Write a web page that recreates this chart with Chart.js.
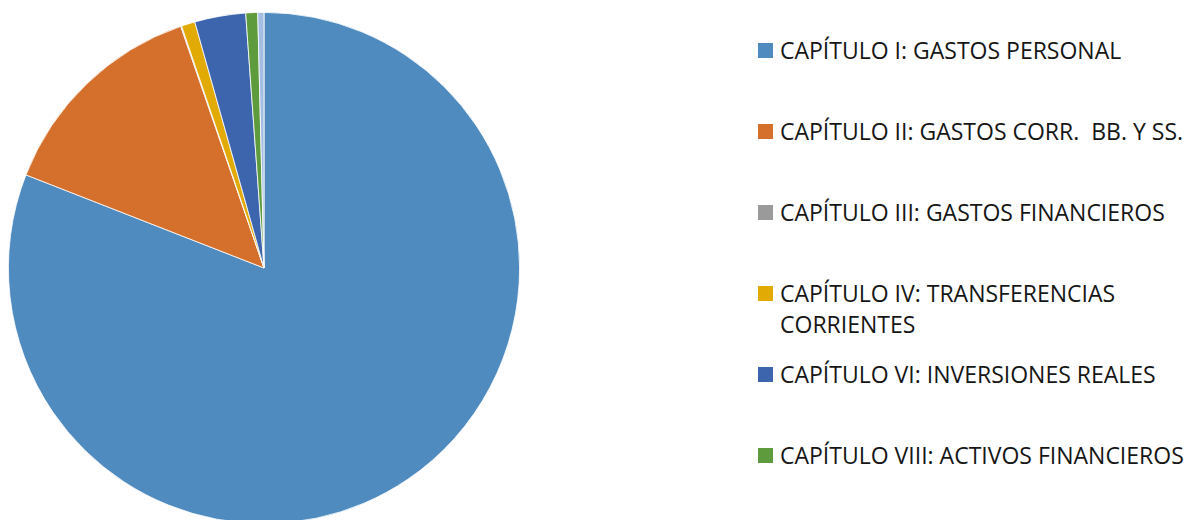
<!DOCTYPE html>
<html>
<head>
<meta charset="utf-8">
<script src="https://cdn.jsdelivr.net/npm/chart.js@4/dist/chart.umd.min.js"></script>
<style>
  html, body { margin: 0; padding: 0; background: #fff; width: 1191px; height: 520px; overflow: hidden; }
  #pieBox { position: absolute; left: 8px; top: 12px; width: 512px; height: 512px; }
  #legend { position: absolute; left: 758px; top: 35px; font-family: "Open Sans", "Noto Sans", sans-serif; font-size: 23px; color: #161616; }
  .item { display: flex; align-items: flex-start; height: 81px; }
  .sw { width: 15px; height: 15px; margin-top: 8px; margin-right: 7px; flex: none; }
  .txt { line-height: 31px; width: 425px; white-space: pre-wrap; }
</style>
</head>
<body>
<div id="pieBox"><canvas id="c"></canvas></div>
<div id="legend"></div>
<script>
const categories = [
  "CAPÍTULO I: GASTOS PERSONAL",
  "CAPÍTULO II: GASTOS CORR.  BB. Y SS.",
  "CAPÍTULO III: GASTOS FINANCIEROS",
  "CAPÍTULO IV: TRANSFERENCIAS CORRIENTES",
  "CAPÍTULO VI: INVERSIONES REALES",
  "CAPÍTULO VIII: ACTIVOS FINANCIEROS",
  "CAPÍTULO IX: PASIVOS FINANCIEROS"
];
const values = [80.9, 13.78, 0.06, 0.86, 3.22, 0.75, 0.39];
const colors = ["#4F8BBE", "#D4702C", "#9A9A9A", "#E2AA05", "#3D65AE", "#5E9B3D", "#A3BEE2"];
const legendCount = 6;

new Chart(document.getElementById('c'), {
  type: 'pie',
  data: {
    labels: categories,
    datasets: [{ data: values, backgroundColor: colors, borderColor: '#ffffff', borderWidth: 0.8 }]
  },
  options: {
    responsive: true,
    maintainAspectRatio: false,
    animation: false,
    layout: { padding: 0 },
    plugins: { legend: { display: false }, tooltip: { enabled: false } }
  }
});

const lg = document.getElementById('legend');
categories.slice(0, legendCount).forEach((name, i) => {
  const it = document.createElement('div');
  it.className = 'item';
  const sw = document.createElement('div');
  sw.className = 'sw';
  sw.style.background = colors[i];
  const tx = document.createElement('div');
  tx.className = 'txt';
  tx.textContent = name;
  it.appendChild(sw); it.appendChild(tx);
  lg.appendChild(it);
});
</script>
</body>
</html>
